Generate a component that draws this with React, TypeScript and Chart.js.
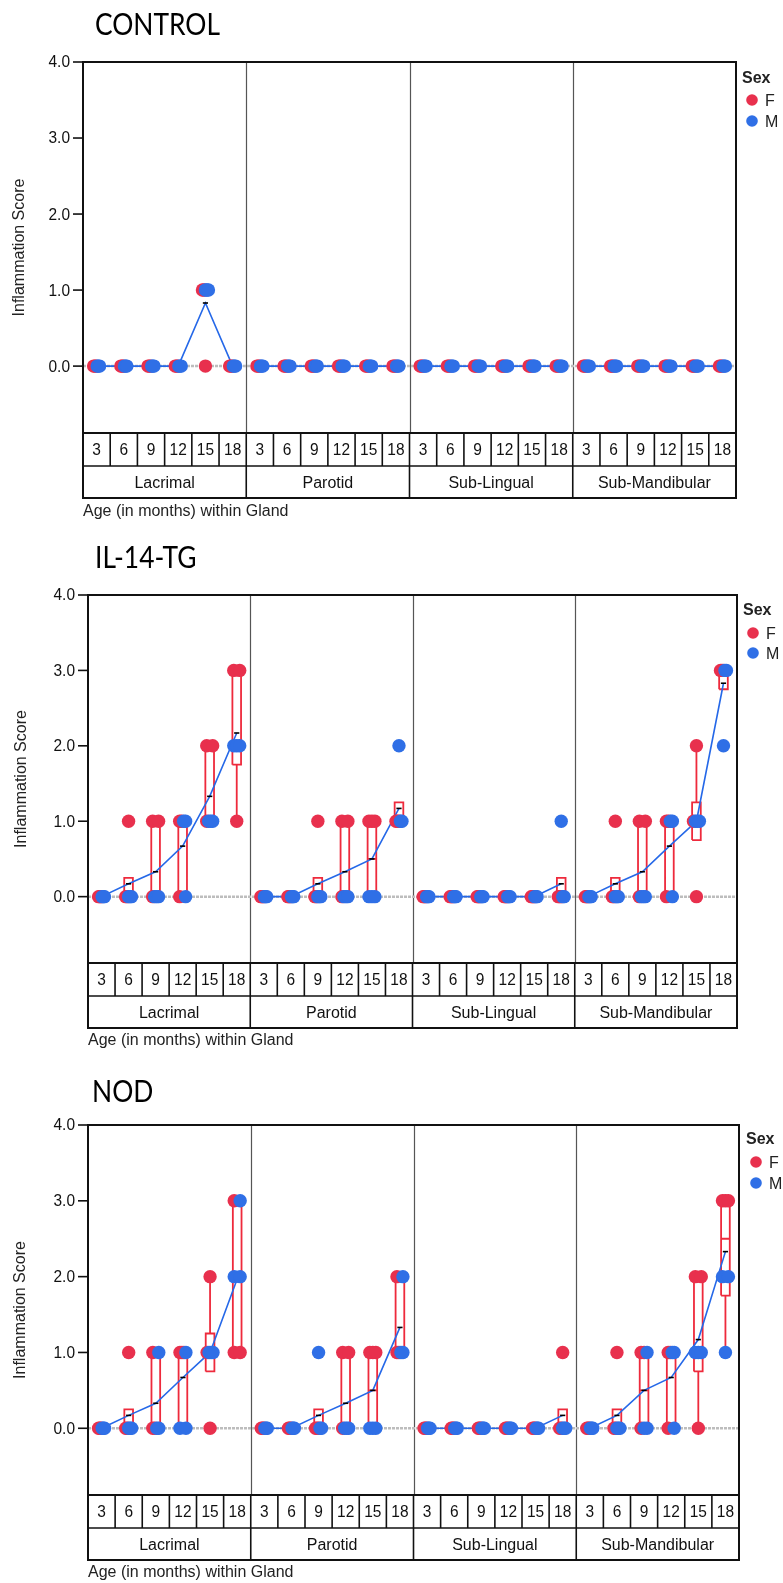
import React, { useEffect, useRef } from "react";
import { Chart, registerables } from "chart.js";

Chart.register(...registerables);

// ---------------- data ----------------
const panelTitles = ["CONTROL", "IL-14-TG", "NOD"];
const glands = ["Lacrimal", "Parotid", "Sub-Lingual", "Sub-Mandibular"];
const ages = ["3", "6", "9", "12", "15", "18"];
const yTicks = [0, 1, 2, 3, 4];
const yTitle = "Inflammation Score";
const xTitle = "Age (in months) within Gland";
const legendTitle = "Sex";
const sexLabels = ["F", "M"];

// individual scores, per gland -> per age
const controlF = [
  [[0, 0, 0], [0, 0, 0], [0, 0, 0], [0, 0, 0], [1, 1, 0], [0, 0, 0]],
  [[0, 0, 0], [0, 0, 0], [0, 0, 0], [0, 0, 0], [0, 0, 0], [0, 0, 0]],
  [[0, 0, 0], [0, 0, 0], [0, 0, 0], [0, 0, 0], [0, 0, 0], [0, 0, 0]],
  [[0, 0, 0], [0, 0, 0], [0, 0, 0], [0, 0, 0], [0, 0, 0], [0, 0, 0]],
];
const controlM = [
  [[0, 0, 0], [0, 0, 0], [0, 0, 0], [0, 0, 0], [1, 1, 1], [0, 0, 0]],
  [[0, 0, 0], [0, 0, 0], [0, 0, 0], [0, 0, 0], [0, 0, 0], [0, 0, 0]],
  [[0, 0, 0], [0, 0, 0], [0, 0, 0], [0, 0, 0], [0, 0, 0], [0, 0, 0]],
  [[0, 0, 0], [0, 0, 0], [0, 0, 0], [0, 0, 0], [0, 0, 0], [0, 0, 0]],
];
const il14F = [
  [[0, 0, 0], [1, 0, 0], [1, 1, 0], [1, 1, 0], [2, 2, 1], [3, 3, 1]],
  [[0, 0, 0], [0, 0, 0], [1, 0, 0], [1, 1, 0], [1, 1, 1], [1, 1, 1]],
  [[0, 0, 0], [0, 0, 0], [0, 0, 0], [0, 0, 0], [0, 0, 0], [0, 0, 0]],
  [[0, 0, 0], [1, 0, 0], [1, 1, 0], [1, 1, 0], [2, 1, 0], [3, 3, 3]],
];
const il14M = [
  [[0, 0, 0], [0, 0, 0], [0, 0, 0], [1, 1, 0], [1, 1, 1], [2, 2, 2]],
  [[0, 0, 0], [0, 0, 0], [0, 0, 0], [0, 0, 0], [0, 0, 0], [2, 1, 1]],
  [[0, 0, 0], [0, 0, 0], [0, 0, 0], [0, 0, 0], [0, 0, 0], [1, 0, 0]],
  [[0, 0, 0], [0, 0, 0], [0, 0, 0], [1, 1, 0], [1, 1, 1], [3, 3, 2]],
];
const nodF = [
  [[0, 0, 0], [1, 0, 0], [1, 0, 0], [1, 1, 1], [2, 1, 0], [3, 1, 1]],
  [[0, 0, 0], [0, 0, 0], [0, 0, 0], [1, 1, 0], [1, 1, 1], [2, 1, 1]],
  [[0, 0, 0], [0, 0, 0], [0, 0, 0], [0, 0, 0], [0, 0, 0], [1, 0, 0]],
  [[0, 0, 0], [1, 0, 0], [1, 1, 0], [1, 1, 0], [2, 2, 0], [3, 3, 3]],
];
const nodM = [
  [[0, 0, 0], [0, 0, 0], [1, 0, 0], [1, 0, 0], [1, 1, 1], [3, 2, 2]],
  [[0, 0, 0], [0, 0, 0], [1, 0, 0], [0, 0, 0], [0, 0, 0], [2, 1, 1]],
  [[0, 0, 0], [0, 0, 0], [0, 0, 0], [0, 0, 0], [0, 0, 0], [0, 0, 0]],
  [[0, 0, 0], [0, 0, 0], [1, 0, 0], [1, 1, 0], [1, 1, 1], [2, 2, 1]],
];

// means per gland -> per age
const controlMeans = [
  [0, 0, 0, 0, 0.83, 0],
  [0, 0, 0, 0, 0, 0],
  [0, 0, 0, 0, 0, 0],
  [0, 0, 0, 0, 0, 0],
];
const il14Means = [
  [0, 0.17, 0.33, 0.67, 1.33, 2.17],
  [0, 0, 0.17, 0.33, 0.5, 1.17],
  [0, 0, 0, 0, 0, 0.17],
  [0, 0.17, 0.33, 0.67, 1.0, 2.83],
];
const nodMeans = [
  [0, 0.17, 0.33, 0.67, 1.0, 1.97],
  [0, 0, 0.17, 0.33, 0.5, 1.33],
  [0, 0, 0, 0, 0, 0.17],
  [0, 0.17, 0.5, 0.67, 1.17, 2.33],
];

// box stats [min, q1, median, q3, max]
const controlBoxes = [
  [null, null, null, null, null, null],
  [null, null, null, null, null, null],
  [null, null, null, null, null, null],
  [null, null, null, null, null, null],
];
const il14Boxes = [
  [null, [0, 0, 0, 0.25, 0.25], [0, 0, 0, 1, 1], [0, 0, 1, 1, 1], [1, 1, 1, 2, 2], [1, 1.75, 2, 3, 3]],
  [null, null, [0, 0, 0, 0.25, 0.25], [0, 0, 0, 1, 1], [0, 0, 0.5, 1, 1], [1, 1, 1, 1.25, 1.25]],
  [null, null, null, null, null, [0, 0, 0, 0.25, 0.25]],
  [null, [0, 0, 0, 0.25, 0.25], [0, 0, 0, 1, 1], [0, 0, 1, 1, 1], [0.75, 0.75, 1, 1.25, 2], [2.75, 2.75, 3, 3, 3]],
];
const nodBoxes = [
  [null, [0, 0, 0, 0.25, 0.25], [0, 0, 0, 1, 1], [0, 0, 1, 1, 1], [0.75, 0.75, 1, 1.25, 2], [1, 1, 2, 3, 3]],
  [null, null, [0, 0, 0, 0.25, 0.25], [0, 0, 0, 1, 1], [0, 0, 0.5, 1, 1], [1, 1, 1, 2, 2]],
  [null, null, null, null, null, [0, 0, 0, 0.25, 0.25]],
  [null, [0, 0, 0, 0.25, 0.25], [0, 0, 0.5, 1, 1], [0, 0, 1, 1, 1], [0, 0.75, 1, 2, 2], [1, 1.75, 2.5, 3, 3]],
];

const panelData = [
  { F: controlF, M: controlM, means: controlMeans, boxes: controlBoxes },
  { F: il14F, M: il14M, means: il14Means, boxes: il14Boxes },
  { F: nodF, M: nodM, means: nodMeans, boxes: nodBoxes },
];

// ---------------- layout / style ----------------
const W = 783;
const Y_MIN = -0.88;
const Y_MAX = 4;
const SPREAD = 0.22; // dodge width (category units)
const BOX_HALF = 0.16;
const AGE_ROW = 33;
const GLAND_ROW = 32;
const DOT_R = 6.7;
const TEXT_SY = 1.04; // slight vertical stretch of small texts
const RED = "#E8304D";
const BLUE = "#2F6FE6";
const BOX_RED = "#EE2A3C";
const LINE_BLUE = "#2568E8";
const FONT = "'Liberation Sans', Arial, sans-serif";
const TITLE_FONT = "Lato, 'Open Sans', sans-serif";

const layouts = [
  { top: 0, height: 530, l: 83, t: 62, r: 736, b: 433, titleX: 95, titleY: 35, xTitleY: 511, yTitleX: 19, legX: 742, legY: 78, dotX: 752, fY: 100, mY: 121 },
  { top: 530, height: 530, l: 88, t: 65, r: 737, b: 433, titleX: 95, titleY: 38, xTitleY: 510, yTitleX: 21, legX: 743, legY: 80, dotX: 753, fY: 103, mY: 123 },
  { top: 1060, height: 523, l: 88, t: 65, r: 739, b: 435, titleX: 92, titleY: 42, xTitleY: 512, yTitleX: 20, legX: 746, legY: 79, dotX: 756, fY: 102, mY: 123 },
];

function catCenter(g: number, a: number) {
  return g * ages.length + a + 0.5;
}

function buildDots(F: number[][][], M: number[][][]) {
  const red: any[] = [];
  const blue: any[] = [];
  glands.forEach((_, g) => {
    ages.forEach((__, a) => {
      const c = catCenter(g, a);
      const all = [
        ...F[g][a].map((v) => ({ v, s: "F" })),
        ...M[g][a].map((v) => ({ v, s: "M" })),
      ];
      const groups = new Map<number, any[]>();
      all.forEach((p) => {
        if (!groups.has(p.v)) groups.set(p.v, []);
        groups.get(p.v)!.push(p);
      });
      groups.forEach((list) => {
        const n = list.length;
        list.forEach((p, k) => {
          const off = n > 1 ? (k / (n - 1) - 0.5) * SPREAD : 0;
          (p.s === "F" ? red : blue).push({ x: c + off, y: p.v });
        });
      });
    });
  });
  return { red, blue };
}

function buildMeans(means: number[][]) {
  const pts: any[] = [];
  means.forEach((row, g) => {
    row.forEach((m, a) => pts.push({ x: catCenter(g, a), y: m }));
    pts.push({ x: catCenter(g, ages.length - 1) + 0.5, y: null });
  });
  return pts;
}

function buildBoxes(boxes: any[][]) {
  const pts: any[] = [];
  boxes.forEach((row, g) => {
    row.forEach((b, a) => {
      if (!b) return;
      const [mn, q1, md, q3, mx] = b;
      const c = catCenter(g, a);
      const gap = { x: c, y: null };
      pts.push({ x: c - BOX_HALF, y: q1 }, { x: c + BOX_HALF, y: q1 }, { x: c + BOX_HALF, y: q3 }, { x: c - BOX_HALF, y: q3 }, { x: c - BOX_HALF, y: q1 }, gap);
      if (md > q1 && md < q3) pts.push({ x: c - BOX_HALF, y: md }, { x: c + BOX_HALF, y: md }, gap);
      if (mx > q3) pts.push({ x: c, y: q3 }, { x: c, y: mx }, gap);
      if (mn < q1) pts.push({ x: c, y: mn }, { x: c, y: q1 }, gap);
    });
  });
  return pts;
}

function drawText(ctx: any, text: string, x: number, y: number, align: string, font: string, color = "#222") {
  ctx.save();
  ctx.font = font;
  ctx.fillStyle = color;
  ctx.textAlign = align;
  ctx.textBaseline = "middle";
  ctx.translate(x, y);
  ctx.scale(1, TEXT_SY);
  ctx.fillText(text, 0, 0);
  ctx.restore();
}

function makeDeco(L: any, title: string) {
  return {
    id: "deco",
    beforeDatasetsDraw(chart: any) {
      const { ctx, chartArea: ca, scales } = chart;
      ctx.save();
      ctx.strokeStyle = "#555";
      ctx.lineWidth = 1.2;
      for (let g = 1; g < glands.length; g++) {
        const px = Math.round(scales.x.getPixelForValue(g * ages.length)) + 0.5;
        ctx.beginPath();
        ctx.moveTo(px, ca.top);
        ctx.lineTo(px, ca.bottom);
        ctx.stroke();
      }
      ctx.restore();
    },
    afterDraw(chart: any) {
      const { ctx, chartArea: ca, scales } = chart;
      const xs = scales.x;
      const ys = scales.y;
      const rowTop = ca.bottom;
      const rowMid = ca.bottom + AGE_ROW;
      const rowBot = rowMid + GLAND_ROW;
      ctx.save();
      const seg = (x1: number, y1: number, x2: number, y2: number) => {
        ctx.beginPath();
        ctx.moveTo(x1, y1);
        ctx.lineTo(x2, y2);
        ctx.stroke();
      };
      // age / gland rows
      ctx.strokeStyle = "#111";
      ctx.lineWidth = 1.6;
      for (let i = 1; i < glands.length * ages.length; i++) {
        const px = xs.getPixelForValue(i);
        const isGland = i % ages.length === 0;
        seg(px, rowTop, px, isGland ? rowBot : rowMid);
      }
      seg(ca.left, rowMid, ca.right, rowMid);
      ctx.lineWidth = 2;
      seg(ca.left, rowTop, ca.right, rowTop);
      seg(ca.left, rowBot, ca.right, rowBot);
      seg(ca.left, ca.top, ca.right, ca.top);
      seg(ca.left, ca.top - 1, ca.left, rowBot + 1);
      seg(ca.right, ca.top - 1, ca.right, rowBot + 1);

      // y ticks
      ctx.lineWidth = 1.6;
      yTicks.forEach((v) => {
        const py = ys.getPixelForValue(v);
        seg(ca.left - 10, py, ca.left, py);
        drawText(ctx, v.toFixed(1), ca.left - 13, py + 1, "right", `15.5px ${FONT}`, "#111");
      });

      // y title
      ctx.save();
      ctx.translate(L.yTitleX, (ca.top + ca.bottom) / 2);
      ctx.rotate(-Math.PI / 2);
      ctx.scale(1, TEXT_SY);
      ctx.textAlign = "center";
      ctx.textBaseline = "middle";
      ctx.font = `16px ${FONT}`;
      ctx.fillStyle = "#222";
      ctx.fillText(yTitle, 0, 0);
      ctx.restore();

      // age + gland labels
      glands.forEach((gl, g) => {
        ages.forEach((ag, a) => {
          drawText(ctx, ag, xs.getPixelForValue(catCenter(g, a)), (rowTop + rowMid) / 2 + 1, "center", `15.5px ${FONT}`, "#111");
        });
        drawText(ctx, gl, xs.getPixelForValue(g * ages.length + ages.length / 2), (rowMid + rowBot) / 2 + 1, "center", `16px ${FONT}`, "#111");
      });

      // x title
      drawText(ctx, xTitle, ca.left, L.xTitleY, "left", `16px ${FONT}`);

      // legend
      drawText(ctx, legendTitle, L.legX, L.legY, "left", `bold 16px ${FONT}`);
      [
        { lab: sexLabels[0], col: RED, y: L.fY },
        { lab: sexLabels[1], col: BLUE, y: L.mY },
      ].forEach((it) => {
        ctx.fillStyle = it.col;
        ctx.beginPath();
        ctx.arc(L.dotX, it.y, 5.8, 0, Math.PI * 2);
        ctx.fill();
        drawText(ctx, it.lab, L.dotX + 13, it.y + 1, "left", `16px ${FONT}`);
      });

      // panel title (horizontally fitted to a Calibri-like width)
      ctx.font = `30px ${TITLE_FONT}`;
      ctx.textBaseline = "alphabetic";
      ctx.textAlign = "left";
      ctx.fillStyle = "#000";
      const sx = 125 / ctx.measureText(panelTitles[0]).width;
      ctx.save();
      ctx.translate(L.titleX, L.titleY);
      ctx.scale(sx, 1);
      ctx.fillText(title, 0, 0);
      ctx.restore();

      ctx.restore();
    },
  };
}

function makeConfig(i: number) {
  const L = layouts[i];
  const d = panelData[i];
  const dots = buildDots(d.F, d.M);
  return {
    type: "scatter",
    data: {
      datasets: [
        {
          label: sexLabels[1],
          data: dots.blue,
          backgroundColor: BLUE,
          borderColor: BLUE,
          pointRadius: DOT_R,
          borderWidth: 0,
          order: 0,
        },
        {
          label: sexLabels[0],
          data: dots.red,
          backgroundColor: RED,
          borderColor: RED,
          pointRadius: DOT_R,
          borderWidth: 0,
          order: 1,
        },
        {
          type: "line",
          label: "mean",
          data: buildMeans(d.means),
          borderColor: LINE_BLUE,
          borderWidth: 1.6,
          pointStyle: "line",
          pointRadius: 2.6,
          pointBorderColor: "#000",
          pointBorderWidth: 1.6,
          showLine: true,
          spanGaps: false,
          order: 2,
        },
        {
          type: "line",
          label: "box",
          data: buildBoxes(d.boxes),
          borderColor: BOX_RED,
          borderWidth: 1.8,
          pointRadius: 0,
          showLine: true,
          spanGaps: false,
          order: 3,
        },
        {
          type: "line",
          label: "ref",
          data: [
            { x: 0, y: 0 },
            { x: glands.length * ages.length, y: 0 },
          ],
          borderColor: "#BDBDBD",
          borderWidth: 2.5,
          borderDash: [3, 1],
          pointRadius: 0,
          order: 4,
        },
      ],
    },
    options: {
      animation: false,
      responsive: false,
      maintainAspectRatio: false,
      layout: { padding: { left: L.l, top: L.t, right: W - L.r, bottom: L.height - L.b } },
      scales: {
        x: { type: "linear", min: 0, max: glands.length * ages.length, display: false },
        y: { type: "linear", min: Y_MIN, max: Y_MAX, display: false },
      },
      plugins: { legend: { display: false }, tooltip: { enabled: false } },
    },
    plugins: [makeDeco(L, panelTitles[i])],
  };
}

export default function App() {
  const refs = useRef<(HTMLCanvasElement | null)[]>([]);
  useEffect(() => {
    document.body.style.margin = "0";
    const charts = layouts.map((_, i) => new Chart(refs.current[i] as HTMLCanvasElement, makeConfig(i) as any));
    return () => charts.forEach((c) => c.destroy());
  }, []);
  return (
    <div style={{ position: "relative", width: W, height: 1583, background: "#fff" }}>
      {layouts.map((L, i) => (
        <canvas
          key={i}
          ref={(el) => {
            refs.current[i] = el;
          }}
          width={W}
          height={L.height}
          style={{ position: "absolute", left: 0, top: L.top, width: W, height: L.height }}
        />
      ))}
    </div>
  );
}
